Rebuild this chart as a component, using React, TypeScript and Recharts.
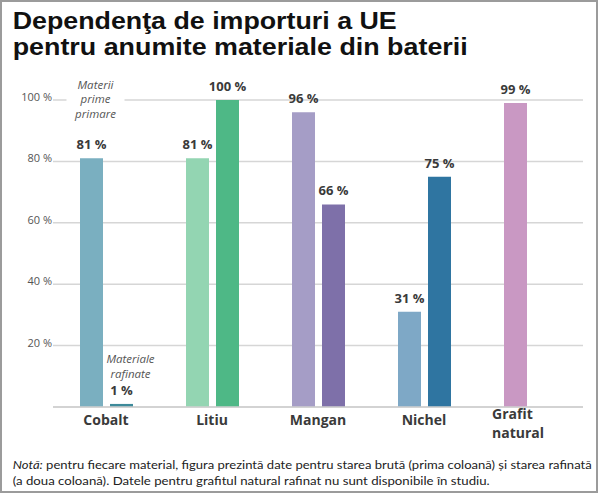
import { BarChart, Bar, XAxis, YAxis, CartesianGrid, Cell, LabelList } from 'recharts'

const categories = ['Cobalt', 'Litiu', 'Mangan', 'Nichel', 'Grafit natural']
const rawValues = [81, 81, 96, 31, 99]
const refinedValues: (number | null)[] = [1, 100, 66, 75, null]
const yTicks = [0, 20, 40, 60, 80, 100]

const rawColors = ['#7aafc0', '#93d5b2', '#a59dc6', '#7ea8c6', '#c998c3']
const refinedColors = ['#3d8a9a', '#4eb886', '#7e70a9', '#2f75a1', '#c998c3']

const rawNote = ['Materii', 'prime', 'primare']
const refinedNote = ['Materiale', 'rafinate']

const titleLines = ['Dependenţa de importuri a UE', 'pentru anumite materiale din baterii']
const noteLead = 'Notă:'
const noteLine1 = ' pentru fiecare material, figura prezintă date pentru starea brută (prima coloană) și starea rafinată'
const noteLine2 = '(a doua coloană). Datele pentru grafitul natural rafinat nu sunt disponibile în studiu.'

const data = categories.map((name, i) => ({
  name,
  raw: rawValues[i],
  refined: refinedValues[i],
}))

const FONT = '"Open Sans", sans-serif'
const DARK = '#3a3a3a'

function valueLabel(note: string[] | null, noteDx: number) {
  return (props: any) => {
    const { x, y, width, value, index } = props
    if (value == null) return null
    const cx = Number(x) + Number(width) / 2
    const base = Number(y) - 9
    const lines = index === 0 && note ? note : null
    return (
      <g>
        {lines && note!.length === 3 && (
          <rect x={cx - 25} y={base - 70} width={58} height={48} fill="#fff" />
        )}
        {lines &&
          lines.map((t, k) => (
            <text
              key={k}
              x={cx + noteDx}
              y={base - (lines.length - k) * 14.5 - (lines.length === 3 ? 17 : 2.5)}
              textAnchor="middle"
              fontFamily={FONT}
              fontStyle="italic"
              fontSize={11.5}
              fill="#555"
            >
              {t}
            </text>
          ))}
        <text x={cx} y={base} textAnchor="middle" fontFamily={FONT} fontWeight={700} fontSize={13} fill={DARK}>
          {`${value} %`}
        </text>
      </g>
    )
  }
}

function CategoryTick(props: any) {
  const { x, y, payload } = props
  const label: string = payload.value
  const parts = label.split(' ')
  if (parts.length > 1) {
    return (
      <text x={x - 38} y={y} textAnchor="start" fontFamily={FONT} fontWeight={700} fontSize={14} fill={DARK}>
        <tspan x={x - 38} dy={12}>{parts[0]}</tspan>
        <tspan x={x - 38} dy={19}>{parts[1]}</tspan>
      </text>
    )
  }
  return (
    <text x={x} y={y + 18} textAnchor="middle" fontFamily={FONT} fontWeight={700} fontSize={14} fill={DARK}>
      {label}
    </text>
  )
}

function PercentTick(props: any) {
  const { x, y, payload } = props
  if (payload.value === 0) return null
  return (
    <text x={x} y={y + 1} textAnchor="end" fontFamily={FONT} fontSize={11} fill="#555">
      {`${payload.value} %`}
    </text>
  )
}

export default function App() {
  return (
    <div style={{ position: 'fixed', left: 0, top: 0, width: 600, height: 495, background: '#fff' }}>
      <div style={{ position: 'absolute', left: 0, top: 0 }}>
        <BarChart
          width={600}
          height={448}
          data={data}
          margin={{ top: 100, right: 17, left: 0, bottom: 8 }}
          barSize={23}
          barGap={7}
        >
          <CartesianGrid vertical={false} stroke="#d6d6d6" strokeWidth={1.5} />
          <XAxis
            dataKey="name"
            height={33}
            interval={0}
            tickLine={false}
            tickSize={0}
            tickMargin={0}
            axisLine={{ stroke: '#cfcfcf', strokeWidth: 1.5 }}
            tick={<CategoryTick />}
          />
          <YAxis
            width={53}
            domain={[0, 100]}
            ticks={yTicks}
            axisLine={false}
            tickLine={false}
            tickSize={0}
            tickMargin={1}
            tick={<PercentTick />}
          />
          <Bar dataKey="raw" isAnimationActive={false}>
            {data.map((_, i) => (
              <Cell key={i} fill={rawColors[i]} />
            ))}
            <LabelList dataKey="raw" content={valueLabel(rawNote, 4)} />
          </Bar>
          <Bar dataKey="refined" isAnimationActive={false}>
            {data.map((_, i) => (
              <Cell key={i} fill={refinedColors[i]} />
            ))}
            <LabelList dataKey="refined" content={valueLabel(refinedNote, 9)} />
          </Bar>
        </BarChart>
      </div>
      <svg width={600} height={495} style={{ position: 'absolute', left: 0, top: 0, pointerEvents: 'none' }}>
        <rect x={1} y={1} width={596} height={491} fill="none" stroke="#9b9b9b" strokeWidth={2} />
        <text x={12.7} y={29} textLength={384} lengthAdjust="spacingAndGlyphs" fontFamily='"Liberation Sans", Arial, sans-serif' fontWeight={700} fontSize={23} fill="#111">
          {titleLines[0]}
        </text>
        <text x={12.7} y={55} textLength={455} lengthAdjust="spacingAndGlyphs" fontFamily='"Liberation Sans", Arial, sans-serif' fontWeight={700} fontSize={23} fill="#111">
          {titleLines[1]}
        </text>
        <text x={12.7} y={469} textLength={579} lengthAdjust="spacingAndGlyphs" fontFamily="Lato, sans-serif" fontSize={12} fill="#222">
          <tspan fontStyle="italic">{noteLead}</tspan>
          <tspan>{noteLine1}</tspan>
        </text>
        <text x={12.7} y={485} textLength={477} lengthAdjust="spacingAndGlyphs" fontFamily="Lato, sans-serif" fontSize={12} fill="#222">
          {noteLine2}
        </text>
      </svg>
    </div>
  )
}
